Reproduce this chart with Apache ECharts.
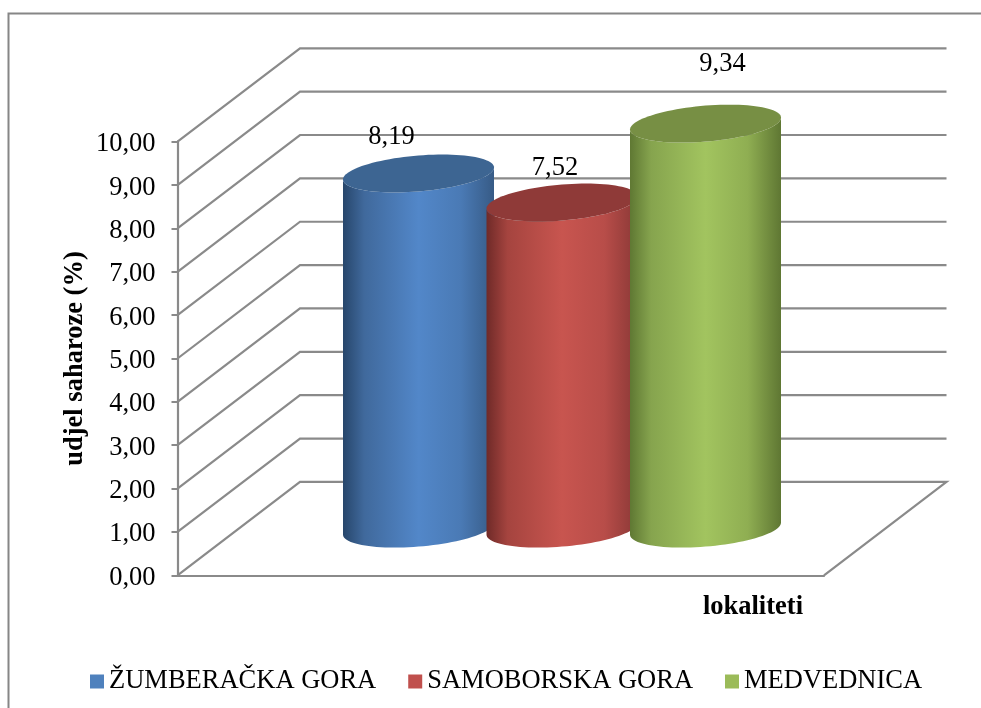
<!DOCTYPE html>
<html>
<head>
<meta charset="utf-8">
<style>html,body{margin:0;padding:0;background:#fff}#c{width:981px;height:708px}</style>
<script src="https://cdn.jsdelivr.net/npm/echarts@6/dist/echarts.min.js"></script>
</head>
<body>
<div id="c"></div>
<script>
const categories = [''];
const seriesNames = ['ŽUMBERAČKA GORA', 'SAMOBORSKA GORA', 'MEDVEDNICA'];
const zumberacka = [8.19];
const samoborska = [7.52];
const medvednica = [9.34];
const yTicks = [0, 1, 2, 3, 4, 5, 6, 7, 8, 9, 10];

const FONT = '"Liberation Serif", "Times New Roman", serif';
const GREY = '#8a8a8a';
const DEPTH_X = 122.5, DEPTH_Y = -93.4;
const SLOT = 143.5, RX = 75.5, TILT = -6, RY = 18;

const looks = [
  { base: '#4f81bd', top: '#3d6592', stops: ['#27466b', '#40699c', '#5287c9', '#4a7ab5', '#375b86'], lx: -27, ly: -36 },
  { base: '#c0504d', top: '#8f3a38', stops: ['#6f2a28', '#a5443f', '#c8554f', '#b84d49', '#8a3836'], lx: -7, ly: -34 },
  { base: '#9bbb59', top: '#778f44', stops: ['#5f7833', '#86a44e', '#a2c45f', '#8fae52', '#5f7733'], lx: 17, ly: -60 }
];

function wallItem(params, api) {
  const v = api.value(0);
  const cs = params.coordSys;
  const left = cs.x, right = cs.x + cs.width;
  const y = api.coord([0, v])[1];
  const pts = [[left, y], [left + DEPTH_X, y + DEPTH_Y], [right + DEPTH_X, y + DEPTH_Y]];
  if (v === 0) pts.push([right, y]);
  return { type: 'polyline', shape: { points: pts }, style: { stroke: GREY, lineWidth: 2.2, fill: null } };
}

function ellipsePts(cx, cy, from, to, n) {
  const out = [];
  for (let i = 0; i <= n; i++) {
    const t = from + (to - from) * i / n;
    out.push([cx + RX * Math.cos(t), cy + TILT * Math.cos(t) + RY * Math.sin(t)]);
  }
  return out;
}

function cylinderRender(idx) {
  const look = looks[idx];
  return function (params, api) {
    const value = api.value(1);
    const top = api.coord([api.value(0), value]);
    const base = api.coord([api.value(0), 0]);
    const cx = top[0] + DEPTH_X / 2 + (idx - 1) * SLOT;
    const ty = top[1] + DEPTH_Y / 2;
    const by = base[1] + DEPTH_Y / 2;
    const bottomArc = ellipsePts(cx, by, 0, Math.PI, 48);
    const topArc = ellipsePts(cx, ty, Math.PI, 0, 48);
    const offs = [0, 0.14, 0.5, 0.78, 1];
    return {
      type: 'group',
      children: [
        {
          type: 'polygon',
          shape: { points: bottomArc.concat(topArc) },
          style: {
            fill: {
              type: 'linear', x: 0, y: 0, x2: 1, y2: 0,
              colorStops: look.stops.map((c, i) => ({ offset: offs[i], color: c }))
            }
          }
        },
        {
          type: 'polygon',
          shape: { points: ellipsePts(cx, ty, 0, Math.PI * 2, 96) },
          style: { fill: look.top }
        },
        {
          type: 'text',
          x: cx + look.lx,
          y: ty + look.ly,
          style: {
            text: value.toFixed(2).replace('.', ','),
            font: '26.5px ' + FONT,
            fill: '#000',
            align: 'center',
            verticalAlign: 'middle'
          }
        }
      ]
    };
  };
}

const chart = echarts.init(document.getElementById('c'), null, { renderer: 'canvas' });
const values = [zumberacka, samoborska, medvednica];

chart.setOption({
  animation: false,
  backgroundColor: '#fff',
  graphic: [{
    type: 'rect', silent: true, z: -1,
    shape: { x: 8.5, y: 13.5, width: 1100, height: 900 },
    style: { fill: null, stroke: '#868686', lineWidth: 2 }
  }],
  legend: {
    data: seriesNames,
    left: 85,
    top: 663,
    icon: 'rect',
    itemWidth: 14,
    itemHeight: 14,
    itemGap: 32,
    textStyle: { fontFamily: FONT, fontSize: 26.5, color: '#000', padding: [0, 0, 0, 0] }
  },
  grid: { left: 177.5, right: 157, top: 141.7, bottom: 132.7, containLabel: false },
  xAxis: {
    type: 'category',
    data: categories,
    name: 'lokaliteti',
    nameLocation: 'end',
    nameGap: -21,
    nameTextStyle: { fontFamily: FONT, fontSize: 26.5, fontWeight: 'bold', color: '#000', align: 'right', verticalAlign: 'top', padding: [18, 0, 0, 0] },
    axisLine: { show: true, lineStyle: { color: GREY, width: 2.2 } },
    axisTick: { show: false },
    axisLabel: { show: false },
    splitLine: { show: false }
  },
  yAxis: {
    type: 'value',
    min: 0,
    max: 10,
    interval: 1,
    name: 'udjel saharoze (%)',
    nameLocation: 'middle',
    nameRotate: 90,
    nameGap: 89,
    nameMoveOverlap: false,
    nameTextStyle: { fontFamily: FONT, fontSize: 26.5, fontWeight: 'bold', color: '#000' },
    axisLine: { show: true, lineStyle: { color: GREY, width: 2.2 } },
    axisTick: { show: true, length: 6, lineStyle: { color: GREY, width: 2 } },
    axisLabel: {
      margin: 22,
      formatter: v => '{a|' + v.toFixed(2).replace('.', ',') + '}',
      rich: { a: { fontFamily: FONT, fontSize: 26.5, color: '#000', padding: [5, 0, 0, 0] } }
    },
    splitLine: { show: false }
  },
  series: [
    {
      type: 'custom',
      name: 'walls',
      silent: true,
      data: yTicks.map(v => [v]),
      encode: { y: 0 },
      renderItem: wallItem,
      z: 1
    }
  ].concat(seriesNames.map((name, i) => ({
    type: 'custom',
    name: name,
    silent: true,
    itemStyle: { color: looks[i].base },
    data: values[i].map((v, k) => [k, v]),
    encode: { x: 0, y: 1 },
    renderItem: cylinderRender(i),
    z: 2 + i
  })))
});
</script>
</body>
</html>
